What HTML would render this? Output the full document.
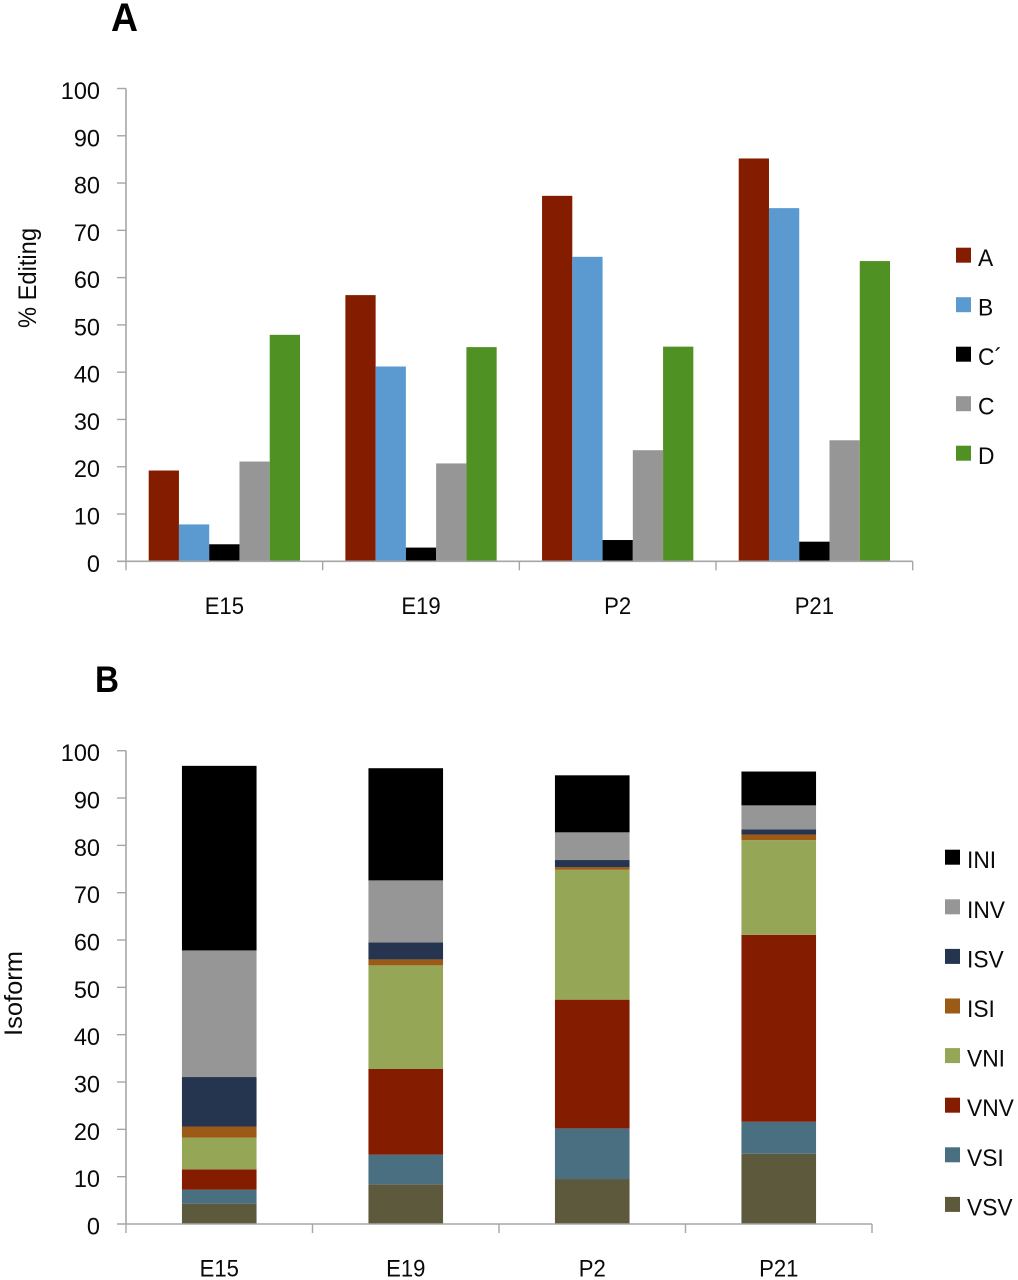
<!DOCTYPE html>
<html lang="en">
<head>
<meta charset="utf-8">
<title>Editing and isoform charts</title>
<style>
html,body{margin:0;padding:0;background:#fff;}
svg{display:block;}
text{font-family:"Liberation Sans",sans-serif;fill:#0a0a0a;}
</style>
</head>
<body>
<svg id="figure" xmlns="http://www.w3.org/2000/svg" width="1018" height="1280" viewBox="0 0 1018 1280">
<rect x="0" y="0" width="1018" height="1280" fill="#fff"/>
<text x="111" y="31" font-size="40" font-weight="700" textLength="27" lengthAdjust="spacingAndGlyphs" style="fill:#000">A</text>
<text x="95" y="692" font-size="37" font-weight="700" textLength="24" lengthAdjust="spacingAndGlyphs" style="fill:#000">B</text>
<text transform="translate(36 328) rotate(-90)" font-size="25" textLength="100" lengthAdjust="spacingAndGlyphs">% Editing</text>
<text transform="translate(22 1036) rotate(-90)" font-size="25" textLength="85" lengthAdjust="spacingAndGlyphs">Isoform</text>
<g id="chart-a"></g>
<g id="chart-b"></g>
</svg>
<script>
const yTicks = [0, 10, 20, 30, 40, 50, 60, 70, 80, 90, 100];
const stages = ['E15', 'E19', 'P2', 'P21'];

const editingNames = ['A', 'B', 'C´', 'C', 'D'];
const editingA = [19.2, 56.3, 77.3, 85.2];
const editingB = [7.8, 41.2, 64.4, 74.7];
const editingCPrime = [3.6, 2.9, 4.5, 4.15];
const editingC = [21.1, 20.7, 23.5, 25.6];
const editingD = [47.9, 45.3, 45.4, 63.5];

const isoformNames = ['VSV', 'VSI', 'VNV', 'VNI', 'ISI', 'ISV', 'INV', 'INI'];
const isoVSV = [4.3, 8.4, 9.5, 14.85];
const isoVSI = [2.95, 6.25, 10.7, 6.75];
const isoVNV = [4.3, 18.1, 27.2, 39.5];
const isoVNI = [6.7, 21.9, 27.45, 20.0];
const isoISI = [2.35, 1.25, 0.55, 1.2];
const isoISV = [10.45, 3.6, 1.5, 1.1];
const isoINV = [26.75, 13.1, 5.85, 5.05];
const isoINI = [39.0, 23.7, 12.05, 7.15];

const editingSeries = [editingA, editingB, editingCPrime, editingC, editingD];
const isoformSeries = [isoVSV, isoVSI, isoVNV, isoVNI, isoISI, isoISV, isoINV, isoINI];
const editingColors = ['#841c00', '#5b9ad0', '#000000', '#969696', '#4f9122'];
const isoformColors = ['#5d593c', '#4a6f80', '#841c00', '#95a656', '#9c5a17', '#253550', '#969696', '#000000'];

const NS = 'http://www.w3.org/2000/svg';
const AXIS = '#a6a6a6';

function make(parent, tag, attrs, content) {
  const el = document.createElementNS(NS, tag);
  for (const k in attrs) el.setAttribute(k, attrs[k]);
  if (content !== undefined) el.textContent = content;
  parent.appendChild(el);
  return el;
}

function squeeze(el, factor) {
  el.setAttribute('textLength', (el.getComputedTextLength() * factor).toFixed(2));
  el.setAttribute('lengthAdjust', 'spacingAndGlyphs');
}

function drawAxes(group, left, right, top, zero, labelBaseline) {
  const yScale = v => zero - (zero - top) * v / 100;
  const band = (right - left) / stages.length;
  const yAxis = make(group, 'line', {x1: left, x2: left, y1: top, y2: zero, stroke: AXIS, 'stroke-width': 1.6});
  
  
  const xAxis = make(group, 'line', {x1: left - 9, x2: right, y1: zero, y2: zero, stroke: AXIS, 'stroke-width': 1.6});
  
  
  yTicks.forEach(t => {
    const y = yScale(t);
    if (t > 0) {
      const tick = make(group, 'line', {x1: left - 9, x2: left, y1: y, y2: y, stroke: AXIS, 'stroke-width': 1.4});
      
      
    }
    const label = make(group, 'text', {x: 100, y: y + 10.5, 'font-size': 24, 'text-anchor': 'end'}, String(t));
    
    
    squeeze(label, 0.98);
  });
  for (let i = 0; i <= stages.length; i++) {
    const x = left + band * i;
    const tick = make(group, 'line', {x1: x, x2: x, y1: zero, y2: zero + 9, stroke: AXIS, 'stroke-width': 1.4});
    
    
  }
  stages.forEach((s, i) => {
    const label = make(group, 'text', {x: left + band * (i + 0.5), y: labelBaseline, 'font-size': 24, 'text-anchor': 'middle'}, s);
    
    
    squeeze(label, 0.92);
  });
  return {yScale, band};
}

function drawLegendEntry(group, x, y, textX, color, name) {
  const entry = make(group, 'g', {});
  
  
  const swatch = make(entry, 'rect', {x: x, y: y, width: 15, height: 15, fill: color});
  
  
  const label = make(entry, 'text', {x: textX, y: y + 18.5, 'font-size': 24}, name);
  
  
  squeeze(label, 0.95);
}

function drawChartA() {
  const g = document.getElementById('chart-a');
  const left = 126, right = 912.7, top = 88.5, zero = 561.3;
  const plot = make(g, 'g', {});
  
  
  const a = drawAxes(g, left, right, top, zero, 614);
  const barW = a.band / 6.5;
  stages.forEach((s, i) => {
    editingSeries.forEach((vals, j) => {
      const yTop = a.yScale(vals[i]);
      const bar = make(plot, 'rect', {
        x: left + a.band * i + barW * 0.75 + barW * j,
        y: yTop,
        width: barW,
        height: zero - yTop,
        fill: editingColors[j]
      });
      
      
    });
  });
  editingNames.forEach((n, j) => {
    drawLegendEntry(g, 956, 247.7 + j * 49.5, 978, editingColors[j], n);
  });
}

function drawChartB() {
  const g = document.getElementById('chart-b');
  const left = 126, right = 872, top = 750.7, zero = 1224;
  const plot = make(g, 'g', {});
  
  
  const a = drawAxes(g, left, right, top, zero, 1276.7);
  const barW = a.band / 2.5;
  stages.forEach((s, i) => {
    let running = 0;
    isoformSeries.forEach((vals, j) => {
      const y0 = a.yScale(running);
      running += vals[i];
      const y1 = a.yScale(running);
      const seg = make(plot, 'rect', {
        x: left + a.band * i + barW * 0.75,
        y: y1,
        width: barW,
        height: y0 - y1,
        fill: isoformColors[j]
      });
      
      
    });
  });
  const count = isoformNames.length;
  isoformNames.forEach((n, j) => {
    drawLegendEntry(g, 945, 849.7 + (count - 1 - j) * 49.6, 967, isoformColors[j], n);
  });
}

drawChartA();
drawChartB();
</script>
</body>
</html>
